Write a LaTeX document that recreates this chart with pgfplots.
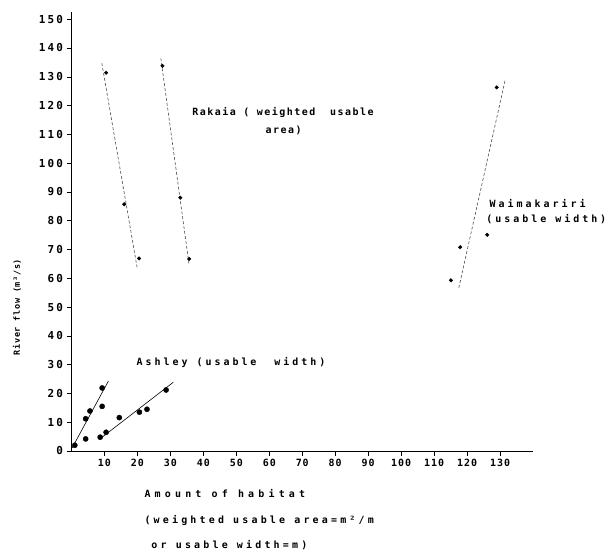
\documentclass[border=0pt]{standalone}
\usepackage{fontspec}
\setmainfont{DejaVu Sans Mono}[BoldFont={DejaVu Sans Mono Bold},LetterSpace=15]
\newfontfamily\fRak{DejaVu Sans Mono}[BoldFont={DejaVu Sans Mono Bold},LetterSpace=15]
\newfontfamily\fYl{DejaVu Sans Mono}[BoldFont={DejaVu Sans Mono Bold},LetterSpace=8]
\newfontfamily\fWide{DejaVu Sans Mono}[BoldFont={DejaVu Sans Mono Bold},LetterSpace=30]
\newfontfamily\fXl{DejaVu Sans Mono}[BoldFont={DejaVu Sans Mono Bold},LetterSpace=42]
\newfontfamily\fXm{DejaVu Sans Mono}[BoldFont={DejaVu Sans Mono Bold},LetterSpace=32]
\newfontfamily\fYt{DejaVu Sans Mono}[BoldFont={DejaVu Sans Mono Bold},LetterSpace=20]
\newfontfamily\fXt{DejaVu Sans Mono}[BoldFont={DejaVu Sans Mono Bold},LetterSpace=10]
\usepackage{pgfplots}
\pgfplotsset{compat=1.18}
\begin{document}
\begin{tikzpicture}
\path[use as bounding box] (-71.5bp,-100bp) rectangle (543.5bp,451bp);
\begin{axis}[
  at={(0,0)}, anchor=south west,
  scale only axis, width=461.5bp, height=439bp,
  xmin=0, xmax=140, ymin=0, ymax=152.5,
  axis x line*=bottom, axis y line*=left,
  axis line style={line width=0.6pt},
  xtick={10,20,...,130}, ytick={0,10,...,150},
  tick align=outside, major tick length=5pt,
  tick style={line width=0.5pt,black},
  xticklabel style={font=\fXt\bfseries\fontsize{10}{11}\selectfont},
  yticklabel style={font=\fYt\bfseries\fontsize{11}{12}\selectfont},
  /pgf/number format/assume math mode=true,
  clip=false,
]
% Rakaia series 1
\addplot[only marks, mark=*, mark size=1.8pt, black] coordinates {(10.5,131.4) (16.0,85.7) (20.5,66.9)};
\addplot[no marks, black!70, line width=0.6pt, densely dashed] coordinates {(9.2,134.7) (20.0,63.1)};
% Rakaia series 2
\addplot[only marks, mark=*, mark size=1.8pt, black] coordinates {(27.6,133.8) (33.0,88.0) (35.7,66.7)};
\addplot[no marks, black!70, line width=0.6pt, densely dashed] coordinates {(27.1,136.4) (35.7,64.5)};
% Waimakariri
\addplot[only marks, mark=*, mark size=1.8pt, black] coordinates {(129.0,126.3) (126.1,75.1) (117.9,70.8) (115.1,59.3)};
\addplot[no marks, black!70, line width=0.6pt, densely dashed] coordinates {(131.5,128.6) (117.4,56.2)};
% Ashley
\addplot[only marks, mark=*, mark size=2.6pt, black] coordinates {
 (1.0,2.0) (4.3,4.2) (4.3,11.2) (5.6,13.9) (9.3,21.9) (9.3,15.5)
 (8.7,4.8) (10.5,6.5) (14.5,11.6) (20.6,13.5) (22.9,14.5) (28.7,21.2)};
\addplot[no marks, black, line width=0.6pt] coordinates {(0.2,1.1) (11.2,24.3)};
\addplot[no marks, black, line width=0.6pt] coordinates {(8.5,4.1) (30.9,23.9)};
% texts
\node[anchor=west, font=\fRak\bfseries\fontsize{10}{11}\selectfont] at (axis cs:35.6,117.7) {Rakaia ( weighted\ \ usable};
\node[anchor=west, font=\fRak\bfseries\fontsize{10}{11}\selectfont] at (axis cs:57.8,111.5) {area)};
\node[anchor=west, font=\fWide\bfseries\fontsize{10}{11}\selectfont] at (axis cs:125.8,86.1) {Waimakariri};
\node[anchor=west, font=\fWide\bfseries\fontsize{10}{11}\selectfont] at (axis cs:124.8,80.6) {(usable width)};
\node[anchor=west, font=\fWide\bfseries\fontsize{10}{11}\selectfont] at (axis cs:18.7,30.9) {Ashley (usable\ \ width)};
\node[anchor=west, font=\fXl\bfseries\fontsize{10}{11}\selectfont] at (axis cs:21.1,-14.6) {Amount of habitat};
\node[anchor=west, font=\fXm\bfseries\fontsize{10}{11}\selectfont] at (axis cs:21.1,-24.3) {(weighted usable area=m²/m};
\node[anchor=west, font=\fXm\bfseries\fontsize{10}{11}\selectfont] at (axis cs:23.2,-32.7) {or usable width=m)};
\node[rotate=90, font=\fYl\bfseries\fontsize{8.5}{10}\selectfont] at (axis cs:-16.5,50) {River flow (m³/s)};
\end{axis}
\end{tikzpicture}
\end{document}
